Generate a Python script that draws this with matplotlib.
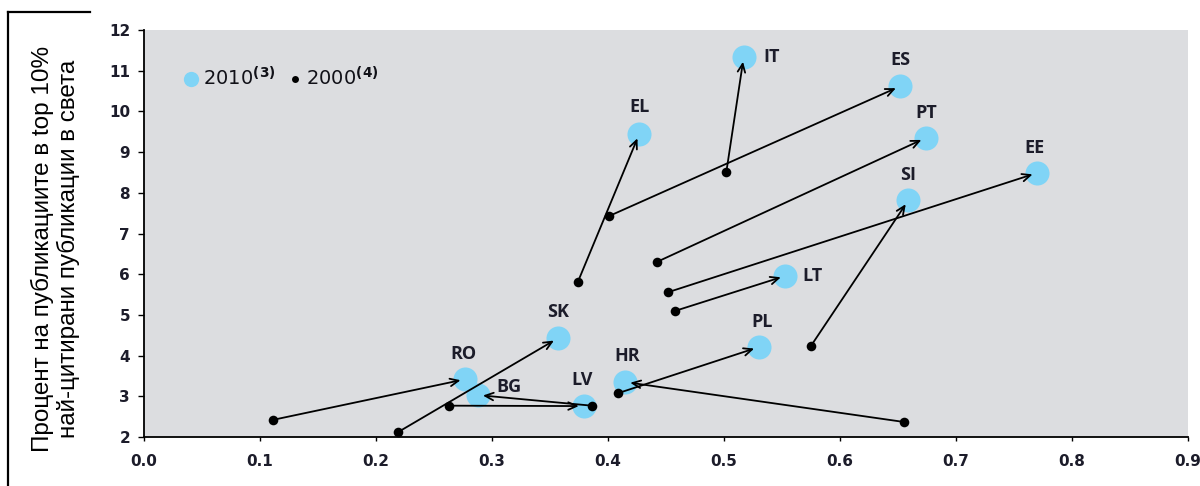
import matplotlib
matplotlib.use("Agg")
import matplotlib.pyplot as plt
from matplotlib.lines import Line2D

# ---- data ----
countries = ["IT", "ES", "EL", "PT", "EE", "SI", "LT", "SK", "PL", "RO", "HR", "BG", "LV"]
x2010 = [0.517, 0.652, 0.427, 0.674, 0.770, 0.659, 0.553, 0.357, 0.530, 0.277, 0.415, 0.288, 0.379]
y2010 = [11.34, 10.62, 9.45, 9.35, 8.49, 7.82, 5.96, 4.43, 4.21, 3.42, 3.35, 3.03, 2.76]
x2000 = [0.502, 0.401, 0.374, 0.442, 0.452, 0.575, 0.458, 0.219, 0.409, 0.111, 0.655, 0.386, 0.263]
y2000 = [8.51, 7.43, 5.81, 6.30, 5.56, 4.24, 5.10, 2.12, 3.08, 2.42, 2.37, 2.77, 2.77]
xticks = [0.0, 0.1, 0.2, 0.3, 0.4, 0.5, 0.6, 0.7, 0.8, 0.9]
yticks = [2, 3, 4, 5, 6, 7, 8, 9, 10, 11, 12]
legend_labels = [r"2010$^{\mathbf{(3)}}$", r"2000$^{\mathbf{(4)}}$"]
ylabel = "Процент на публикациите в top 10%\nнай-цитирани публикации в света"

# label offsets (points) per country
label_offsets = {
    "IT": (14, 0), "ES": (0, 19), "EL": (0, 19), "PT": (0, 18), "EE": (-2, 18),
    "SI": (0, 18), "LT": (12, 0), "SK": (0, 19), "PL": (2, 18), "RO": (-1, 18),
    "HR": (1, 19), "BG": (13, 6), "LV": (-1, 19),
}
label_ha = {"IT": "left", "LT": "left", "BG": "left"}

BLUE = "#80d4f6"
GRAY = "#dcdde0"
TXT = "#1c1c2a"

fig = plt.figure(figsize=(12, 4.86), dpi=100)
ax = fig.add_axes([0.12, 0.1008, 0.87, 0.8374])
ax.set_facecolor(GRAY)

ax.scatter(x2010, y2010, s=300, color=BLUE, zorder=2, linewidths=0)
for c, xa, ya, xb, yb in zip(countries, x2000, y2000, x2010, y2010):
    ax.annotate("", xy=(xb, yb), xytext=(xa, ya),
                arrowprops=dict(arrowstyle="->,head_length=0.6,head_width=0.27",
                                color="black", lw=1.3, shrinkA=0, shrinkB=3.5),
                zorder=3)
ax.scatter(x2000, y2000, s=48, color="black", zorder=4, linewidths=0)

for c, xb, yb in zip(countries, x2010, y2010):
    dx, dy = label_offsets[c]
    ha = label_ha.get(c, "center")
    ax.annotate(c, xy=(xb, yb), xytext=(dx, dy), textcoords="offset points",
                ha=ha, va="center", fontsize=13, fontfamily="Open Sans",
                fontweight="bold", color=TXT, zorder=5)

ax.set_xlim(0, 0.9)
ax.set_ylim(2, 12)
ax.set_xticks(xticks)
ax.set_yticks(yticks)
ax.set_xticklabels([f"{v:.1f}" for v in xticks])
ax.set_yticklabels([str(v) for v in yticks])
ax.tick_params(axis="both", colors="black", labelcolor=TXT, labelsize=11,
               direction="out", width=1, length=4, pad=6)
ax.tick_params(axis="x", length=3, pad=9)
for lab in ax.get_xticklabels() + ax.get_yticklabels():
    lab.set_fontweight("semibold")
for s in ["top", "right"]:
    ax.spines[s].set_visible(False)
for s in ["left", "bottom"]:
    ax.spines[s].set_linewidth(1.3)
    ax.spines[s].set_color("black")

handles = [Line2D([], [], marker="o", linestyle="", markersize=11, markerfacecolor=BLUE,
                  markeredgewidth=0),
           Line2D([], [], marker="o", linestyle="", markersize=5, markerfacecolor="black",
                  markeredgewidth=0)]
leg = ax.legend(handles, legend_labels, loc="upper left", bbox_to_anchor=(0.032, 0.93),
                ncol=2, frameon=False, handlelength=0.6,
                handletextpad=0.3, columnspacing=0.7, borderaxespad=0,
                prop=dict(size=14))
for t in leg.get_texts():
    t.set_color("#111118")

fig.text(0.046, 0.488, ylabel, rotation=90, ha="center", va="center",
         multialignment="center", fontsize=17.5, fontfamily="Liberation Sans",
         color="black", linespacing=1.15)

# partial frame around the label
fig.add_artist(Line2D([8 / 1200, 8 / 1200], [0, 1 - 12 / 486], color="black", lw=1.6))
fig.add_artist(Line2D([8 / 1200, 90 / 1200], [1 - 12 / 486, 1 - 12 / 486], color="black", lw=1.6))

fig.savefig("out.png", dpi=100, facecolor="white")
